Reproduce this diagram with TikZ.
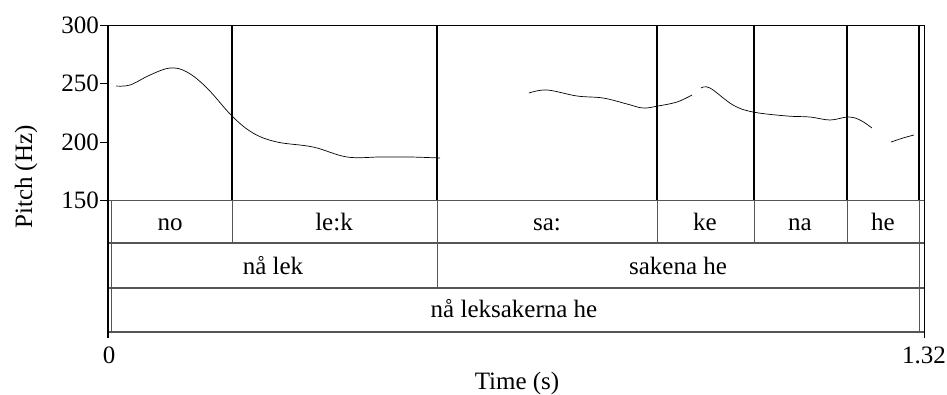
\documentclass[tikz,border=0pt]{standalone}
\usepackage{fontspec}
\setmainfont{Liberation Serif}
\begin{document}
\begin{tikzpicture}[x=1pt, y=-1pt, font=\fontsize{25}{29}\selectfont]
\definecolor{col}{HTML}{555555}
\useasboundingbox (0,0) rectangle (947,394);
\fill[white] (0,0) rectangle (947,394);
\draw[line width=0.8pt] (108,25) -- (924,25);
\draw[col, line width=0.8pt] (108,200) -- (924,200);
\draw[col, line width=2pt] (108,243) -- (924,243);
\draw[col, line width=2pt] (108,288) -- (924,288);
\draw[col, line width=2pt] (108,332) -- (924,332);
\draw[line width=2pt] (232,25) -- (232,200);
\draw[line width=2pt] (437,25) -- (437,200);
\draw[line width=2pt] (657,25) -- (657,200);
\draw[line width=2pt] (754,25) -- (754,200);
\draw[line width=2pt] (847,25) -- (847,200);
\draw[line width=2pt] (919,25) -- (919,200);
\draw[col, line width=0.8pt] (232,200) -- (232,243);
\draw[col, line width=0.8pt] (437,200) -- (437,288);
\draw[col, line width=0.8pt] (657,200) -- (657,243);
\draw[col, line width=0.8pt] (754,200) -- (754,243);
\draw[col, line width=0.8pt] (847,200) -- (847,243);
\draw[col, line width=0.8pt] (919,200) -- (919,332);
\draw[col, line width=0.8pt] (111,200) -- (111,332);
\draw[line width=2pt] (108,25) -- (108,338);
\draw[line width=0.8pt] (924,25) -- (924,338);
\draw[line width=0.8pt] (100,25) -- (108,25) (100,83) -- (108,83) (100,142) -- (108,142) (100,200) -- (108,200);
\draw[line width=0.7pt] plot[smooth, tension=0.6] coordinates {(116,86) (130,85) (150,75) (170,68) (187,72) (207,88) (232,116) (253,133) (277,142) (313,147) (347,157) (380,157) (410,157) (440,158)};
\draw[line width=0.7pt] plot[smooth, tension=0.6] coordinates {(529,93) (547,90) (577,96) (603,98) (627,104) (643,108) (658,106) (677,102) (692,95)};
\draw[line width=0.7pt] plot[smooth, tension=0.6] coordinates {(701,88) (710,88) (733,105) (753,112) (787,116) (810,117) (830,120) (848,117) (860,120) (872,128)};
\draw[line width=0.7pt] plot[smooth, tension=0.6] coordinates {(891,142) (903,138) (914,135)};
\node[anchor=base east, inner sep=0pt] (l300) at (99,33) {300};
\node[anchor=base east, inner sep=0pt] (l250) at (99,91) {250};
\node[anchor=base east, inner sep=0pt] (l200) at (99,150) {200};
\node[anchor=base east, inner sep=0pt] (l150) at (99,208) {150};
\node[anchor=base, rotate=90, inner sep=0pt] (ylabel) at (32,177) {Pitch (Hz)};
\node[anchor=base, inner sep=0pt] (no) at (170,230) {no};
\node[anchor=base, inner sep=0pt] (lek) at (334,230) {le:k};
\node[anchor=base, inner sep=0pt] (sa) at (547,230) {sa:};
\node[anchor=base, inner sep=0pt] (ke) at (705,230) {ke};
\node[anchor=base, inner sep=0pt] (na) at (800,230) {na};
\node[anchor=base, inner sep=0pt] (he) at (883,230) {he};
\node[anchor=base, inner sep=0pt] (nalek) at (273,274) {nå lek};
\node[anchor=base, inner sep=0pt] (sakenahe) at (678,274) {sakena he};
\node[anchor=base, inner sep=0pt] (phrase) at (514,317) {nå leksakerna he};
\node[anchor=base, inner sep=0pt] (t0) at (109,363) {0};
\node[anchor=base, inner sep=0pt] (t132) at (924,363) {1.32};
\node[anchor=base, inner sep=0pt] (xlabel) at (517,389) {Time (s)};
\end{tikzpicture}
\end{document}
